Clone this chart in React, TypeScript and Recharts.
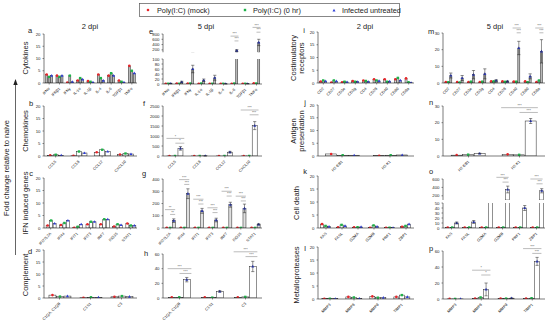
import React from "react";
import { BarChart, Bar, XAxis, YAxis, ErrorBar, ReferenceDot } from "recharts";

const RED = "#e8262b";
const GREEN = "#1fb34a";
const BLUE = "#2f3fd8";
const INK = "#222";
const FONT = "'Liberation Sans', Arial, sans-serif";

// ---- categories
const cytokines = ["IFNα", "IFNβ1", "IFNγ", "IL-1α", "IL-1β", "IL-4", "IL-6", "TGFβ1", "TNFα"];
const chemokines = ["CCL5", "CCL8", "CCL12", "CXCL10"];
const ifnGenes = ["IFI27L2A", "IFI44", "IFIT1", "IFIT3", "IRF7", "ISG15", "STAT1"];
const complement = ["C1QA, C1QB", "C1S1", "C3"];
const costim = ["CD2", "CD27", "CD3e", "CD3g", "CD4", "CD28", "CD40", "CD80", "CD8a"];
const antigen = ["H2-EB1", "H2-K1"];
const cellDeath = ["FAS", "FASL", "GZMA", "GZMB", "PRF1", "ZBP1"];
const metallo = ["MMP3", "MMP8", "MMP9", "TIMP1"];

// ---- values (mock, 0 hr, untreated, untreated error)
const aMock = [3.5, 3, 0.2, 1, 0.8, 3.5, 3, 1, 7];
const aZero = [2.5, 2.5, 3, 2, 0.5, 2, 4, 0.5, 5];
const aUntr = [3, 3, 0.5, 1.5, 0.3, 1, 3, 0.3, 4];

const eMock = [1, 1.5, 2, 1, 1, 0.8, 1, 1, 3];
const eZero = [1, 1, 2, 2, 1, 1, 2, 1, 2];
const eUntr = [2, 8, 60, 15, 25, 0.5, 170, 1, 480];
const eErr = [1, 3, 15, 5, 10, 0.3, 40, 0.5, 120];

const bMock = [0.3, 0.1, 1.5, 0.6];
const bZero = [0.5, 1.8, 2.5, 1];
const bUntr = [0.3, 1.2, 1.8, 0.8];

const fMock = [1, 1, 1, 1];
const fZero = [1, 1, 1, 1];
const fUntr = [380, 5, 190, 1520];
const fErr = [90, 3, 40, 200];

const cMock = [1, 1.2, 0.1, 1.5, 1.5, 0.6, 1.8];
const cZero = [3, 2, 0.5, 2.5, 3.5, 1.5, 1];
const cUntr = [1.8, 3, 1.5, 2.5, 3.5, 1.2, 1];

const gMock = [1, 1, 1, 1, 1, 1, 1];
const gZero = [1, 1, 1, 1, 1, 1, 1];
const gUntr = [60, 280, 140, 65, 190, 160, 30];
const gErr = [15, 40, 20, 15, 20, 35, 5];

const dMock = [1.2, 0.1, 0.5];
const dZero = [0.6, 0.3, 0.8];
const dUntr = [0.8, 0.3, 0.6];

const hMock = [1, 1, 1];
const hZero = [1, 0.5, 1.5];
const hUntr = [25, 9, 43];
const hErr = [3, 1, 7];

const iMock = [0.6, 0.2, 0.3, 0.8, 1, 1.5, 1.5, 1.5, 1.8];
const iZero = [1, 1, 0.5, 0.5, 0.8, 1, 0.5, 2, 0.3];
const iUntr = [0.7, 0.7, 0.4, 0.5, 0.5, 0.8, 0.6, 1, 0.1];

const mMock = [0.5, 0.5, 0.5, 0.5, 1, 1, 0.8, 1, 0.5];
const mZero = [0.5, 0.3, 0.8, 0.8, 1, 0.7, 0.8, 0.5, 1.5];
const mUntr = [4.5, 3, 5, 5.5, 1.5, 1, 21, 4, 19];
const mErr = [1.5, 1.5, 2.5, 3, 0.5, 0.3, 4, 1.5, 7];

const jMock = [0.8, 0.1];
const jZero = [0.3, 0.3];
const jUntr = [0.3, 0.4];

const nMock = [0.5, 1];
const nZero = [0.8, 0.7];
const nUntr = [1.5, 21];
const nErr = [0.2, 1.5];

const kMock = [1.5, 0.3, 0.3, 0.1, 0.1, 0.5];
const kZero = [0.8, 1.2, 0.3, 1, 0.1, 0.8];
const kUntr = [0.5, 0.8, 0.4, 0.5, 0.1, 1.5];

const oMock = [1, 1, 1, 1, 1, 1];
const oZero = [1, 1, 1, 1, 1, 1];
const oUntr = [10, 12, 70, 350, 40, 320];
const oErr = [2, 3, 15, 80, 5, 50];

const lMock = [0.1, 0.8, 1, 0.8];
const lZero = [0.1, 0.6, 0.5, 1.5];
const lUntr = [0.1, 0.2, 0.5, 0.8];

const pMock = [0.1, 0.5, 0.5, 0.5];
const pZero = [0.1, 2, 0.5, 1];
const pUntr = [0.1, 12, 1, 47];
const pErr = [0, 8, 0.2, 5];

// ---- significance brackets (category, height of upper bracket, stars)
type Sig = { cat: string; y: number; s: string };
const eSig: Sig[] = [
  { cat: "IL-6", y: 720, s: "***" },
  { cat: "TNFα", y: 1050, s: "***" },
];
const fSig: Sig[] = [
  { cat: "CCL5", y: 880, s: "*" },
  { cat: "CXCL10", y: 2300, s: "***" },
];
const gSig: Sig[] = [
  { cat: "IFI27L2A", y: 150, s: "**" },
  { cat: "IFI44", y: 395, s: "***" },
  { cat: "IFIT1", y: 235, s: "***" },
  { cat: "IFIT3", y: 165, s: "***" },
  { cat: "IRF7", y: 300, s: "***" },
  { cat: "ISG15", y: 260, s: "***" },
];
const hSig: Sig[] = [
  { cat: "C1QA, C1QB", y: 40, s: "***" },
  { cat: "C3", y: 63, s: "***" },
];
const mSig: Sig[] = [
  { cat: "CD40", y: 33, s: "***" },
  { cat: "CD8a", y: 33, s: "***" },
];
const nSig: Sig[] = [{ cat: "H2-K1", y: 29, s: "***" }];
const oSig: Sig[] = [
  { cat: "GZMB", y: 640, s: "***" },
  { cat: "ZBP1", y: 600, s: "***" },
];
const pSig: Sig[] = [
  { cat: "MMP8", y: 36, s: "*" },
  { cat: "TIMP1", y: 63, s: "***" },
];

const YW = 18;
const MT = 3;
const XH = 22;

type Shape = "c" | "s" | "t";

function marker(kind: Shape, cx: number, cy: number, color: string) {
  if (kind === "c") return <circle cx={cx} cy={cy} r={1.3} fill={color} />;
  if (kind === "s")
    return <rect x={cx - 1.2} y={cy - 1.2} width={2.4} height={2.4} fill={color} />;
  return (
    <polygon
      points={`${cx},${cy - 1.6} ${cx - 1.5},${cy + 1.1} ${cx + 1.5},${cy + 1.1}`}
      fill={color}
    />
  );
}

const barShape =
  (kind: Shape, color: string, key: string, lo: number, fill: string) =>
  (p: any) => {
    const { x, y, width, height, payload } = p;
    const v = payload ? payload[key] : 0;
    if (x == null || y == null || v < lo) return <g />;
    const h = Math.abs(height || 0);
    const top = height < 0 ? y + height : y;
    return (
      <g>
        <rect x={x} y={top} width={width} height={h} fill={fill} stroke={INK} strokeWidth={0.5} />
        {marker(kind, x + width / 2, y, color)}
      </g>
    );
  };

const sigShape = (band: number, s: string) => (p: any) => {
  const { cx, cy } = p;
  if (cx == null || cy == null) return <g />;
  const half = band * 0.36;
  const tx = (x: number, y: number) => (
    <text x={x} y={y} fontSize={3.6} textAnchor="middle" fill="#555" fontFamily={FONT}>
      {s}
    </text>
  );
  return (
    <g>
      {tx(cx, cy - 0.8)}
      <line x1={cx - half} x2={cx + half} y1={cy} y2={cy} stroke="#555" strokeWidth={0.4} />
      {tx(cx + half / 2, cy + 4)}
      <line x1={cx} x2={cx + half} y1={cy + 4.8} y2={cy + 4.8} stroke="#555" strokeWidth={0.4} />
    </g>
  );
};

const RotTick = (props: any) => {
  const { x, y, payload } = props;
  return (
    <text
      x={x + 1}
      y={y + 2.5}
      transform={`rotate(-45 ${x + 1} ${y + 2.5})`}
      textAnchor="end"
      fontSize={3.9}
      fill={INK}
      fontFamily={FONT}
    >
      {payload.value}
    </text>
  );
};

type PanelProps = {
  ax: number;
  right: number;
  top: number;
  bottom: number;
  cats: string[];
  mock: number[];
  zero: number[];
  untr: number[];
  err?: number[];
  sig?: Sig[];
  domain: [number, number];
  ticks: number[];
  fill: string;
  hideX?: boolean;
  lo?: number;
  clip?: string;
};

function Panel(props: PanelProps) {
  const { ax, right, top, bottom, cats, mock, zero, untr, err, sig, domain, ticks, fill, hideX, clip } =
    props;
  const lo = props.lo ?? -1;
  const data = cats.map((c, i) => ({
    name: c,
    m: mock[i],
    z: zero[i],
    u: untr[i],
    e: err ? err[i] : 0,
  }));
  const band = (right - ax) / cats.length;
  const w = right - ax + YW + 2;
  const h = bottom - top + MT + (hideX ? 0 : XH);
  return (
    <div style={{ position: "absolute", left: ax - YW, top: top - MT, clipPath: clip }}>
      <BarChart
        width={w}
        height={h}
        data={data}
        margin={{ top: MT, right: 2, left: 0, bottom: 0 }}
        barCategoryGap="16%"
        barGap={0.5}
      >
        <XAxis
          dataKey="name"
          hide={hideX}
          height={XH}
          interval={0}
          tick={<RotTick />}
          tickSize={1.5}
          axisLine={{ stroke: INK, strokeWidth: 0.6 }}
          tickLine={{ stroke: INK, strokeWidth: 0.5 }}
        />
        <YAxis
          width={YW}
          domain={domain}
          ticks={ticks}
          allowDataOverflow
          tick={{ fontSize: 4.3, fill: INK, fontFamily: FONT }}
          tickSize={1.5}
          axisLine={{ stroke: INK, strokeWidth: 0.6 }}
          tickLine={{ stroke: INK, strokeWidth: 0.5 }}
          interval={0}
        />
        <Bar dataKey="m" isAnimationActive={false} shape={barShape("c", RED, "m", lo, fill)} />
        <Bar dataKey="z" isAnimationActive={false} shape={barShape("s", GREEN, "z", lo, fill)} />
        <Bar dataKey="u" isAnimationActive={false} shape={barShape("t", BLUE, "u", lo, fill)}>
          {err && <ErrorBar dataKey="e" width={1.6} strokeWidth={0.5} stroke={INK} />}
        </Bar>
        {sig &&
          sig.map((g) => (
            <ReferenceDot
              key={g.cat}
              x={g.cat}
              y={g.y}
              ifOverflow="visible"
              shape={sigShape(band, g.s)}
            />
          ))}
      </BarChart>
    </div>
  );
}

const GRAY = "#b9b9b9";
const LIGHT = "#dedede";
const WHITE = "#ffffff";

const t20 = [0, 5, 10, 15, 20];
const CLIP_BOTTOM = "inset(-30px -10px 0px -30px)";
const CLIP_TOP = "inset(1px -10px -40px -30px)";

function Labels() {
  const txt = (x: number, y: number, s: string, size = 7.5, rot = false, anchor = "middle") => (
    <text
      x={x}
      y={y}
      fontSize={size}
      fontFamily={FONT}
      fill={INK}
      textAnchor={anchor}
      transform={rot ? `rotate(-90 ${x} ${y})` : undefined}
    >
      {s}
    </text>
  );
  return (
    <svg
      width={550}
      height={320}
      style={{ position: "absolute", left: 0, top: 0, pointerEvents: "none" }}
    >
      {/* legend */}
      <rect x={139.5} y={3.5} width={260} height={13} fill="none" stroke="#555" strokeWidth={0.7} />
      {marker("c", 148, 10, RED)}
      {txt(157, 12.8, "Poly(I:C) (mock)", 7.3, false, "start")}
      {marker("s", 245, 10, GREEN)}
      {txt(253, 12.8, "Poly(I:C) (0 hr)", 7.3, false, "start")}
      {marker("t", 334, 10.3, BLUE)}
      {txt(342, 12.8, "Infected untreated", 7.3, false, "start")}

      {/* column titles */}
      {txt(90, 29, "2 dpi")}
      {txt(206, 29, "5 dpi")}
      {txt(365, 29, "2 dpi")}
      {txt(495, 29, "5 dpi")}

      {/* panel letters */}
      {txt(30, 33, "a")}
      {txt(151, 34, "e")}
      {txt(304, 33, "i")}
      {txt(431, 34, "m")}
      {txt(31, 106, "b")}
      {txt(144, 106, "f")}
      {txt(305, 105, "j")}
      {txt(431, 105, "n")}
      {txt(31, 176, "c")}
      {txt(144, 176, "g")}
      {txt(305, 174, "k")}
      {txt(431, 174, "o")}
      {txt(30, 254, "d")}
      {txt(146, 256, "h")}
      {txt(305, 251, "l")}
      {txt(431, 251, "p")}

      {/* row labels */}
      {txt(28, 58, "Cytokines", 7.5, true)}
      {txt(28, 131, "Chemokines", 7.5, true)}
      {txt(28, 203, "IFN induced genes", 7.5, true)}
      {txt(28, 275, "Complement", 7.5, true)}
      {txt(296, 58, "Costimulatory", 7.5, true)}
      {txt(304, 58, "receptors", 7.5, true)}
      {txt(296, 131, "Antigen", 7.5, true)}
      {txt(304, 131, "presentation", 7.5, true)}
      {txt(299, 203, "Cell death", 7.5, true)}
      {txt(299, 275, "Metalloproteases", 7.5, true)}

      {/* fold change arrow */}
      {txt(9, 168, "Fold change relative to naive", 7.5, true)}
      <line x1={15.5} y1={255} x2={15.5} y2={84} stroke={INK} strokeWidth={0.7} />
      <polygon points="15.5,79 13.3,85 17.7,85" fill={INK} />
    </svg>
  );
}

export default function App() {
  return (
    <div
      style={{
        position: "absolute",
        left: 0,
        top: 0,
        width: 550,
        height: 320,
        background: "#fff",
        fontFamily: FONT,
      }}
    >
      <style>{`svg { overflow: visible; }`}</style>
      {/* column 1: 2 dpi */}
      <Panel ax={44} right={137} top={34} bottom={83} cats={cytokines} mock={aMock} zero={aZero} untr={aUntr} domain={[0, 20]} ticks={t20} fill={GRAY} />
      <Panel ax={44} right={137} top={106} bottom={156} cats={chemokines} mock={bMock} zero={bZero} untr={bUntr} domain={[0, 20]} ticks={t20} fill={WHITE} />
      <Panel ax={44} right={137} top={178} bottom={228} cats={ifnGenes} mock={cMock} zero={cZero} untr={cUntr} domain={[0, 20]} ticks={t20} fill={WHITE} />
      <Panel ax={44} right={137} top={250} bottom={298} cats={complement} mock={dMock} zero={dZero} untr={dUntr} domain={[0, 20]} ticks={t20} fill={WHITE} />

      {/* column 2: 5 dpi */}
      <Panel ax={163} right={262} top={34} bottom={52.5} hideX lo={100} clip={CLIP_BOTTOM} cats={cytokines} mock={eMock} zero={eZero} untr={eUntr} err={eErr} sig={eSig} domain={[100, 800]} ticks={[200, 400, 600, 800]} fill={GRAY} />
      <Panel ax={163} right={262} top={59} bottom={84} clip={CLIP_TOP} cats={cytokines} mock={eMock} zero={eZero} untr={eUntr} err={eErr} domain={[0, 100]} ticks={[0, 20, 40, 60, 80, 100]} fill={GRAY} />
      <Panel ax={163} right={262} top={106} bottom={156} cats={chemokines} mock={fMock} zero={fZero} untr={fUntr} err={fErr} sig={fSig} domain={[0, 2500]} ticks={[0, 500, 1000, 1500, 2000, 2500]} fill={WHITE} />
      <Panel ax={163} right={262} top={179} bottom={228} cats={ifnGenes} mock={gMock} zero={gZero} untr={gUntr} err={gErr} sig={gSig} domain={[0, 400]} ticks={[0, 100, 200, 300, 400]} fill={LIGHT} />
      <Panel ax={163} right={262} top={254} bottom={298} cats={complement} mock={hMock} zero={hZero} untr={hUntr} err={hErr} sig={hSig} domain={[0, 60]} ticks={[0, 20, 40, 60]} fill={WHITE} />

      {/* column 3: 2 dpi */}
      <Panel ax={318} right={414} top={32} bottom={83} cats={costim} mock={iMock} zero={iZero} untr={iUntr} domain={[0, 20]} ticks={t20} fill={LIGHT} />
      <Panel ax={318} right={414} top={105} bottom={156} cats={antigen} mock={jMock} zero={jZero} untr={jUntr} domain={[0, 20]} ticks={t20} fill={WHITE} />
      <Panel ax={318} right={414} top={176} bottom={228} cats={cellDeath} mock={kMock} zero={kZero} untr={kUntr} domain={[0, 20]} ticks={t20} fill={WHITE} />
      <Panel ax={318} right={414} top={247} bottom={299} cats={metallo} mock={lMock} zero={lZero} untr={lUntr} domain={[0, 20]} ticks={t20} fill={WHITE} />

      {/* column 4: 5 dpi */}
      <Panel ax={443} right={545} top={33} bottom={83} cats={costim} mock={mMock} zero={mZero} untr={mUntr} err={mErr} sig={mSig} domain={[0, 30]} ticks={[0, 10, 20, 30]} fill={GRAY} />
      <Panel ax={443} right={545} top={106} bottom={156} cats={antigen} mock={nMock} zero={nZero} untr={nUntr} err={nErr} sig={nSig} domain={[0, 30]} ticks={[0, 10, 20, 30]} fill={WHITE} />
      <Panel ax={443} right={545} top={179} bottom={200} hideX lo={100} clip={CLIP_BOTTOM} cats={cellDeath} mock={oMock} zero={oZero} untr={oUntr} err={oErr} sig={oSig} domain={[100, 600]} ticks={[200, 400, 600]} fill={WHITE} />
      <Panel ax={443} right={545} top={203} bottom={228} clip={CLIP_TOP} cats={cellDeath} mock={oMock} zero={oZero} untr={oUntr} err={oErr} domain={[0, 50]} ticks={[0, 10, 20, 30, 40, 50]} fill={WHITE} />
      <Panel ax={443} right={545} top={251} bottom={299} cats={metallo} mock={pMock} zero={pZero} untr={pUntr} err={pErr} sig={pSig} domain={[0, 60]} ticks={[0, 20, 40, 60]} fill={WHITE} />

      <Labels />
    </div>
  );
}
